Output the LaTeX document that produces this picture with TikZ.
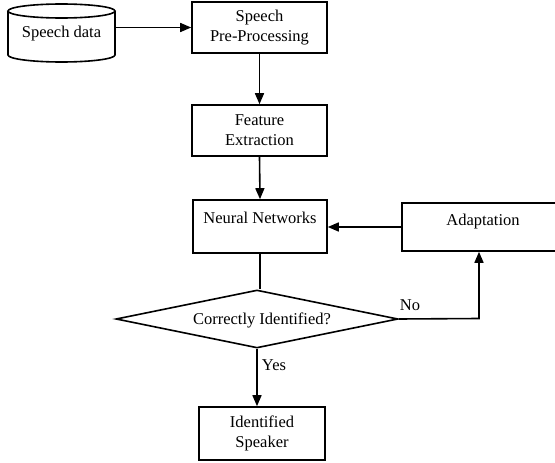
\documentclass[tikz,border=0pt]{standalone}
\usepackage{fontspec}
\setmainfont{Liberation Serif}
\usetikzlibrary{shapes.geometric,arrows.meta}
\begin{document}
\begin{tikzpicture}[x=1pt,y=-1pt,
  every node/.style={font=\fontsize{16.5}{20}\selectfont},
  box/.style={draw,line width=1.6pt,rectangle,inner sep=0pt,align=center},
  plain/.style={draw=none,inner sep=0pt,align=center},
  conn/.style={line width=1.6pt},
  arrowline/.style={line width=1.6pt,-{Triangle[length=11pt,width=9pt]}}]
\useasboundingbox (0,0) rectangle (555,463);
\clip (0,0) rectangle (555,463);
% cylinder
\draw[line width=1.6pt] (8,11) -- (8,55) arc[start angle=180,end angle=360,x radius=53.5pt,y radius=7pt] -- (115,11);
\draw[line width=1.6pt] (61.5,11) ellipse[x radius=53.5pt,y radius=7pt];
\node[plain,minimum width=107pt,minimum height=59pt] (data) at (61.5,34) {Speech data};
% boxes
\node[box,minimum width=135pt,minimum height=51pt] (pre) at (259.5,27.5) {Speech\\Pre-Processing};
\node[box,minimum width=135pt,minimum height=51pt] (feat) at (259.5,130.5) {Feature\\Extraction};
\node[box,minimum width=134pt,minimum height=53pt] (nn) at (260,226.5) {};
\node[plain] (nntext) at (260,218) {Neural Networks};
\node[box,minimum width=170pt,minimum height=48pt] (adapt) at (487,227) {};
\node[plain] (adapttext) at (483,222) {Adaptation};
\node[box,minimum width=126pt,minimum height=53pt] (ident) at (262,433.5) {Identified\\Speaker};
\node[draw,diamond,line width=1.6pt,inner sep=0pt,minimum width=282pt,minimum height=58pt] (dec) at (257,319) {};
\node[plain] (dectext) at (262,320) {Correctly Identified?};
\coordinate (corner) at (479,318.5);
% connectors
\draw[arrowline] (data.east |- pre.west) -- (pre.west);
\draw[arrowline] (pre.south) -- (feat.north);
\draw[arrowline] (feat.south) -- (nn.north);
\draw[arrowline] (adapt.west) -- (adapt.west -| nn.east);
\draw[conn] (nn.south) -- (nn.south |- dec.north);
\draw[arrowline] (dec.east) -- (corner) -- (corner |- adapt.south);
\draw[arrowline] (dec.south) -- (dec.south |- ident.north);
% labels
\node[plain] (nolabel) at (410,305) {No};
\node[plain] (yeslabel) at (274,365) {Yes};
\end{tikzpicture}
\end{document}
